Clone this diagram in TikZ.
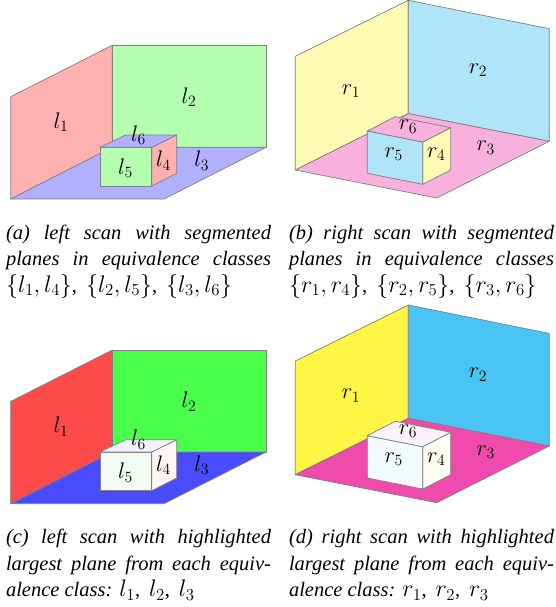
\RequirePackage{fix-cm}
\documentclass[tikz,border=0pt]{standalone}
\usepackage{fontspec}
\setmainfont{Liberation Serif}
\newcommand{\capmath}[1]{{\fontsize{24}{26.3}\selectfont$#1$}}
\newcommand{\capgap}{,\hspace{9pt}}
\tikzset{
  face/.style={draw=gray,line width=0.7pt,line join=round},
  lab/.style={font=\fontsize{22.5}{22.5}\selectfont,inner sep=0pt},
  captext/.style={font=\fontsize{20.5}{26.4}\selectfont\itshape,text width=265pt,align=justify,anchor=north west,inner sep=0pt,outer sep=0pt}
}
\definecolor{sr}{HTML}{FFB0B0}\definecolor{sg}{HTML}{B4FFB0}\definecolor{sb}{HTML}{B0B0FF}
\definecolor{sy}{HTML}{FFFAB4}\definecolor{sc}{HTML}{B0E4F8}\definecolor{sm}{HTML}{F8B0DC}
\definecolor{hr}{HTML}{FF4A4A}\definecolor{hg}{HTML}{4AFF4A}\definecolor{hb}{HTML}{4A4AFF}
\definecolor{hy}{HTML}{FFF545}\definecolor{hc}{HTML}{4AC4F2}\definecolor{hm}{HTML}{F04AAC}
\definecolor{w1}{HTML}{FFF6F4}\definecolor{w2}{HTML}{F2FBF2}\definecolor{w3}{HTML}{F2F2FF}
\definecolor{w4}{HTML}{FFFFF4}\definecolor{w5}{HTML}{F2FAFE}\definecolor{w6}{HTML}{FEF2FA}
\newcommand{\leftroom}[7]{%
 \begin{scope}[yshift=-#1pt]
  \draw[face,fill=#2] (10.7,-96.7)--(112.3,-45.3)--(112.3,-147.3)--(10.7,-199)--cycle;
  \draw[face,fill=#3] (112.3,-45.3)--(266,-45.3)--(266,-147.3)--(112.3,-147.3)--cycle;
  \draw[face,fill=#4] (10.7,-199)--(112.3,-147.3)--(266,-147.3)--(164,-199)--cycle;
  \draw[face,fill=#5] (151.7,-147.3)--(176.7,-135)--(176.7,-173.3)--(151.7,-186)--cycle;
  \draw[face,fill=#6] (100,-147.3)--(151.7,-147.3)--(151.7,-186)--(100,-186)--cycle;
  \draw[face,fill=#7] (100,-147.3)--(125.7,-135)--(176.7,-135)--(151.7,-147.3)--cycle;
  \node[lab] (nl1) at (61,-122) {$l_1$};
  \node[lab] (nl2) at (189,-97) {$l_2$};
  \node[lab] (nl3) at (201.7,-160.7) {$l_3$};
  \node[lab] (nl4) at (163.5,-160.7) {$l_4$};
  \node[lab] (nl5) at (125.5,-168) {$l_5$};
  \node[lab] (nl6) at (138.5,-135) {$l_6$};
 \end{scope}}
\newcommand{\rightroom}[7]{%
 \begin{scope}[yshift=-#1pt]
  \draw[face,fill=#2] (295.3,-56.3)--(408.3,-0.3)--(408.3,-113.6)--(295.3,-170)--cycle;
  \draw[face,fill=#3] (408.3,-0.3)--(549.3,-28.7)--(549.3,-141.3)--(408.3,-113.6)--cycle;
  \draw[face,fill=#4] (295.3,-170)--(408.3,-113.6)--(549.3,-141.3)--(436.7,-198)--cycle;
  \draw[face,fill=#5] (422.7,-142)--(450.7,-127.6)--(450.7,-170)--(422.7,-184.3)--cycle;
  \draw[face,fill=#6] (367.3,-131)--(422.7,-142)--(422.7,-184.3)--(367.3,-173.3)--cycle;
  \draw[face,fill=#7] (367.3,-131)--(395.3,-116.6)--(450.7,-127.6)--(422.7,-142)--cycle;
  \node[lab] (nr1) at (351,-91) {$r_1$};
  \node[lab] (nr2) at (478,-70) {$r_2$};
  \node[lab] (nr3) at (485.7,-147.7) {$r_3$};
  \node[lab] (nr4) at (436.3,-154.3) {$r_4$};
  \node[lab] (nr5) at (393.7,-154.3) {$r_5$};
  \node[lab] (nr6) at (408,-126.7) {$r_6$};
 \end{scope}}
\begin{document}
\begin{tikzpicture}[x=1pt,y=1pt]
\useasboundingbox (0,0) rectangle (555,-607);
\fill[white] (0,0) rectangle (555,-607);
\leftroom{0}{sr}{sg}{sb}{sr}{sg}{sb}
\rightroom{0}{sy}{sc}{sm}{sy}{sc}{sm}
\leftroom{304.7}{hr}{hg}{hb}{w1}{w2}{w3}
\rightroom{304.7}{hy}{hc}{hm}{w4}{w5}{w6}
\node[captext] (ca) at (6,-225) {(a) left scan with segmented planes in equivalence classes\linebreak\upshape\capmath{\{l_1,l_4\}}\capgap\capmath{\{l_2,l_5\}}\capgap\capmath{\{l_3,l_6\}}};
\node[captext] (cb) at (289,-225) {(b) right scan with segmented planes in equivalence classes\linebreak\upshape\capmath{\{r_1,r_4\}}\capgap\capmath{\{r_2,r_5\}}\capgap\capmath{\{r_3,r_6\}}};
\node[captext] (cc) at (6,-529.5) {(c) left scan with highlighted largest plane from each equiv\-alence class: \upshape\capmath{l_1}\capgap\capmath{l_2}\capgap\capmath{l_3}};
\node[captext] (cd) at (289,-529.5) {(d) right scan with highlighted largest plane from each equiv\-alence class: \upshape\capmath{r_1}\capgap\capmath{r_2}\capgap\capmath{r_3}};
\end{tikzpicture}
\end{document}
